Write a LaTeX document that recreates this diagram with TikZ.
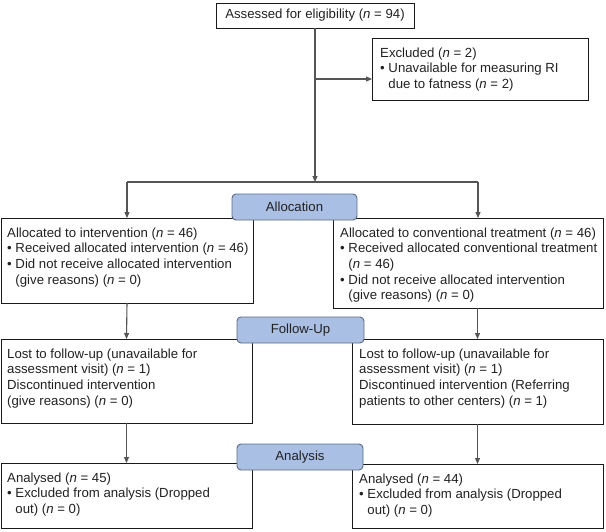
\documentclass[tikz,border=0pt]{standalone}
\usepackage{fontspec}
\setmainfont{Liberation Sans}
\usetikzlibrary{arrows.meta,calc}
\definecolor{bandfill}{HTML}{A9BFE3}
\definecolor{banddraw}{HTML}{5B6B86}
\definecolor{linegray}{HTML}{555555}
\definecolor{boxdraw}{HTML}{1A1A1A}
\definecolor{txtcol}{HTML}{222222}
\newcommand{\nn}{\textit{n}}
\newcommand{\fl}{\rule{0pt}{11pt}}
\newcommand{\bul}{\textbullet\ }
\newcommand{\ind}{\hphantom{\textbullet\ }}
\begin{document}
\begin{tikzpicture}[x=1pt,y=-1pt,
  every node/.style={font=\fontsize{13.2}{15.6}\selectfont, text=txtcol},
  box/.style={draw=boxdraw, line width=0.9pt, inner sep=0pt, outer sep=0pt, anchor=north west},
  txt/.style={anchor=north west, inner sep=0pt, align=left},
  band/.style={draw=banddraw, fill=bandfill, line width=0.9pt, rounded corners=4pt, inner sep=0pt, outer sep=0pt, anchor=north west},
  conn/.style={draw=linegray, line width=1.1pt},
  arr/.style={conn, -{Triangle[length=6pt,width=5pt]}}]
\fill[white] (0,0) rectangle (606,531);
\useasboundingbox (0,0) rectangle (606,531);

% boxes
\node[box, minimum width=198, minimum height=25] (elig) at (216,3) {Assessed for eligibility (\nn{} = 94)};
\node[box, minimum width=216, minimum height=62] (excl) at (372,38) {};
\node[txt] (exclt) at ($(excl.north west)+(8,8)$) {\fl Excluded (\nn{} = 2)\\ \bul Unavailable for measuring RI\\ \ind due to fatness (\nn{} = 2)};

\node[box, minimum width=252, minimum height=85] (a1) at (1,218) {};
\node[txt] (a1t) at ($(a1.north west)+(6,8)$) {\fl Allocated to intervention (\nn{} = 46)\\ \bul Received allocated intervention (\nn{} = 46)\\ \bul Did not receive allocated intervention\\ \ind(give reasons) (\nn{} = 0)};

\node[box, minimum width=270, minimum height=90] (b1) at (333,218) {};
\node[txt] (b1t) at ($(b1.north west)+(7,8)$) {\fl Allocated to conventional treatment (\nn{} = 46)\\ \bul Received allocated conventional treatment\\ \ind(\nn{} = 46)\\ \bul Did not receive allocated intervention\\ \ind(give reasons) (\nn{} = 0)};

\node[box, minimum width=251, minimum height=84] (a2) at (1,339) {};
\node[txt] (a2t) at ($(a2.north west)+(6,8)$) {\fl Lost to follow-up (unavailable for\\ assessment visit) (\nn{} = 1)\\ Discontinued intervention\\ (give reasons) (\nn{} = 0)};

\node[box, minimum width=251, minimum height=85] (b2) at (352,339) {};
\node[txt] (b2t) at ($(b2.north west)+(7,8)$) {\fl Lost to follow-up (unavailable for\\ assessment visit) (\nn{} = 1)\\ Discontinued intervention (Referring\\ patients to other centers) (\nn{} = 1)};

\node[box, minimum width=251, minimum height=65] (a3) at (1,463) {};
\node[txt] (a3t) at ($(a3.north west)+(6,8)$) {\fl Analysed (\nn{} = 45)\\ \bul Excluded from analysis (Dropped\\ \ind out) (\nn{} = 0)};

\node[box, minimum width=251, minimum height=64] (b3) at (352,464) {};
\node[txt] (b3t) at ($(b3.north west)+(7,8)$) {\fl Analysed (\nn{} = 44)\\ \bul Excluded from analysis (Dropped\\ \ind out) (\nn{} = 0)};

% connectors
\coordinate (split) at (315,182);
\coordinate (hl) at (127,182);
\coordinate (hr) at (478,182);
\coordinate (exbr) at (315,79);
\draw[arr] (elig.south) -- (split);
\draw[arr] (exbr) -- (exbr -| excl.west);
\draw[conn] (hl) -- (hr);
\draw[arr] (hl) -- (hl |- a1.north);
\draw[arr] (hr) -- (hr |- b1.north);
\draw[arr] (a1.south) -- (a2.north);
\draw[arr] (b2.north |- b1.south) -- (b2.north);
\draw[arr] (a2.south) -- (a3.north);
\draw[arr] (b2.south) -- (b3.north);

% bands
\node[band, minimum width=125, minimum height=26] (alloc) at (232,194) {Allocation};
\node[band, minimum width=127, minimum height=26] (fup) at (237,317) {Follow-Up};
\node[band, minimum width=126, minimum height=26] (anal) at (237,444) {Analysis};
\end{tikzpicture}
\end{document}
